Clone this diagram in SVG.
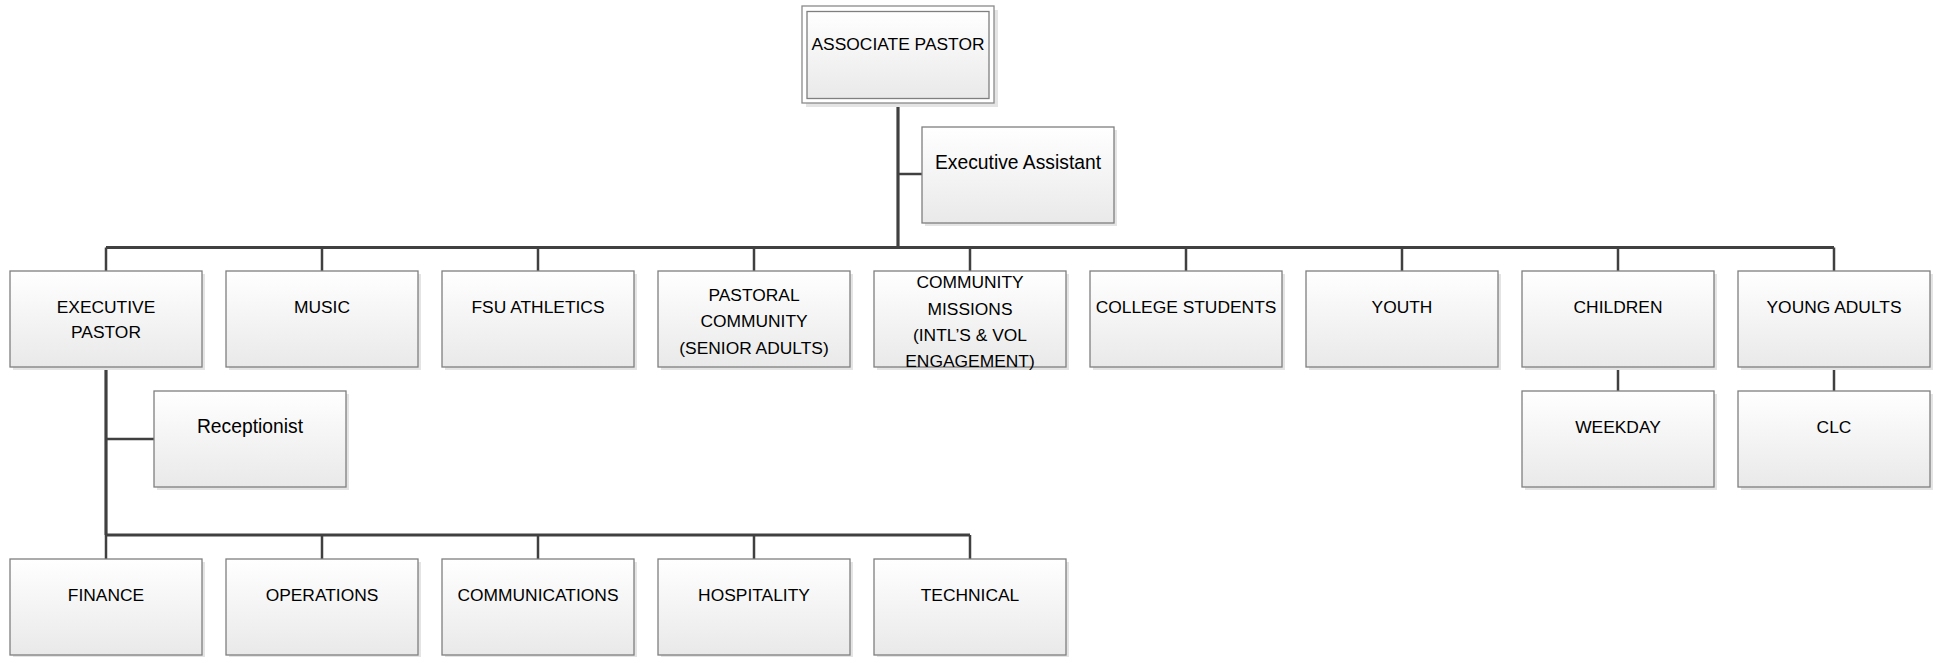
<svg xmlns="http://www.w3.org/2000/svg" width="1942" height="657" viewBox="0 0 1942 657">
<defs>
<linearGradient id="g" x1="0" y1="0" x2="0" y2="1">
<stop offset="0" stop-color="#ffffff"/>
<stop offset="1" stop-color="#e9e9e9"/>
</linearGradient>
<style>
.sh{fill:#e4e4e4;}
.bx{fill:url(#g);stroke:#7f7f7f;stroke-width:1.3;}
.bo{fill:#ffffff;stroke:#8a8a8a;stroke-width:1.3;}
text{font-family:"Liberation Sans",Arial,sans-serif;font-size:17.4px;fill:#000;text-anchor:middle;}
text.lc{font-size:19.3px;}
.c{stroke:#404040;fill:none;stroke-width:2.5;}
.t{stroke:#404040;fill:none;stroke-width:3.2;}
</style>
</defs>
<rect width="1942" height="657" fill="#ffffff"/>
<g id="connectors">
<path class="t" d="M898 103V247.5"/>
<path class="c" d="M898 174H922"/>
<path class="t" d="M106 247.5H1834"/>
<path class="c" d="M106 247.5V271M322 247.5V271M538 247.5V271M754 247.5V271M970 247.5V271M1186 247.5V271M1402 247.5V271M1618 247.5V271M1834 247.5V271"/>
<path class="t" d="M106 367V535"/>
<path class="c" d="M106 439H154"/>
<path class="t" d="M106 535H970"/>
<path class="c" d="M106 535V559M322 535V559M538 535V559M754 535V559M970 535V559"/>
<path class="c" d="M1618 367V391M1834 367V391"/>
</g>
<g id="associate-pastor">
<rect class="sh" x="806" y="10" width="192" height="97"/>
<rect class="bo" x="802" y="6" width="192" height="97"/>
<rect class="bx" x="807" y="11.5" width="182" height="87"/>
<text x="898" y="50">ASSOCIATE PASTOR</text>
</g>
<g id="executive-assistant">
<rect class="sh" x="925" y="130" width="192" height="96"/>
<rect class="bx" x="922" y="127" width="192" height="96"/>
<text class="lc" x="1018" y="169">Executive Assistant</text>
</g>
<g id="executive-pastor">
<rect class="sh" x="13" y="274" width="192" height="96"/>
<rect class="bx" x="10" y="271" width="192" height="96"/>
<text x="106" y="313">EXECUTIVE</text>
<text x="106" y="338">PASTOR</text>
</g>
<g id="music">
<rect class="sh" x="229" y="274" width="192" height="96"/>
<rect class="bx" x="226" y="271" width="192" height="96"/>
<text x="322" y="313">MUSIC</text>
</g>
<g id="fsu-athletics">
<rect class="sh" x="445" y="274" width="192" height="96"/>
<rect class="bx" x="442" y="271" width="192" height="96"/>
<text x="538" y="313">FSU ATHLETICS</text>
</g>
<g id="pastoral-community">
<rect class="sh" x="661" y="274" width="192" height="96"/>
<rect class="bx" x="658" y="271" width="192" height="96"/>
<text x="754" y="300.5">PASTORAL</text>
<text x="754" y="327">COMMUNITY</text>
<text x="754" y="353.5">(SENIOR ADULTS)</text>
</g>
<g id="community-missions">
<rect class="sh" x="877" y="274" width="192" height="96"/>
<rect class="bx" x="874" y="271" width="192" height="96"/>
<text x="970" y="288">COMMUNITY</text>
<text x="970" y="314.5">MISSIONS</text>
<text x="970" y="341">(INTL’S &amp; VOL</text>
<text x="970" y="367">ENGAGEMENT)</text>
</g>
<g id="college-students">
<rect class="sh" x="1093" y="274" width="192" height="96"/>
<rect class="bx" x="1090" y="271" width="192" height="96"/>
<text x="1186" y="313">COLLEGE STUDENTS</text>
</g>
<g id="youth">
<rect class="sh" x="1309" y="274" width="192" height="96"/>
<rect class="bx" x="1306" y="271" width="192" height="96"/>
<text x="1402" y="313">YOUTH</text>
</g>
<g id="children">
<rect class="sh" x="1525" y="274" width="192" height="96"/>
<rect class="bx" x="1522" y="271" width="192" height="96"/>
<text x="1618" y="313">CHILDREN</text>
</g>
<g id="young-adults">
<rect class="sh" x="1741" y="274" width="192" height="96"/>
<rect class="bx" x="1738" y="271" width="192" height="96"/>
<text x="1834" y="313">YOUNG ADULTS</text>
</g>
<g id="receptionist">
<rect class="sh" x="157" y="394" width="192" height="96"/>
<rect class="bx" x="154" y="391" width="192" height="96"/>
<text class="lc" x="250" y="433">Receptionist</text>
</g>
<g id="weekday">
<rect class="sh" x="1525" y="394" width="192" height="96"/>
<rect class="bx" x="1522" y="391" width="192" height="96"/>
<text x="1618" y="433">WEEKDAY</text>
</g>
<g id="clc">
<rect class="sh" x="1741" y="394" width="192" height="96"/>
<rect class="bx" x="1738" y="391" width="192" height="96"/>
<text x="1834" y="433">CLC</text>
</g>
<g id="finance">
<rect class="sh" x="13" y="562" width="192" height="96"/>
<rect class="bx" x="10" y="559" width="192" height="96"/>
<text x="106" y="600.5">FINANCE</text>
</g>
<g id="operations">
<rect class="sh" x="229" y="562" width="192" height="96"/>
<rect class="bx" x="226" y="559" width="192" height="96"/>
<text x="322" y="600.5">OPERATIONS</text>
</g>
<g id="communications">
<rect class="sh" x="445" y="562" width="192" height="96"/>
<rect class="bx" x="442" y="559" width="192" height="96"/>
<text x="538" y="600.5">COMMUNICATIONS</text>
</g>
<g id="hospitality">
<rect class="sh" x="661" y="562" width="192" height="96"/>
<rect class="bx" x="658" y="559" width="192" height="96"/>
<text x="754" y="600.5">HOSPITALITY</text>
</g>
<g id="technical">
<rect class="sh" x="877" y="562" width="192" height="96"/>
<rect class="bx" x="874" y="559" width="192" height="96"/>
<text x="970" y="600.5">TECHNICAL</text>
</g>
</svg>
